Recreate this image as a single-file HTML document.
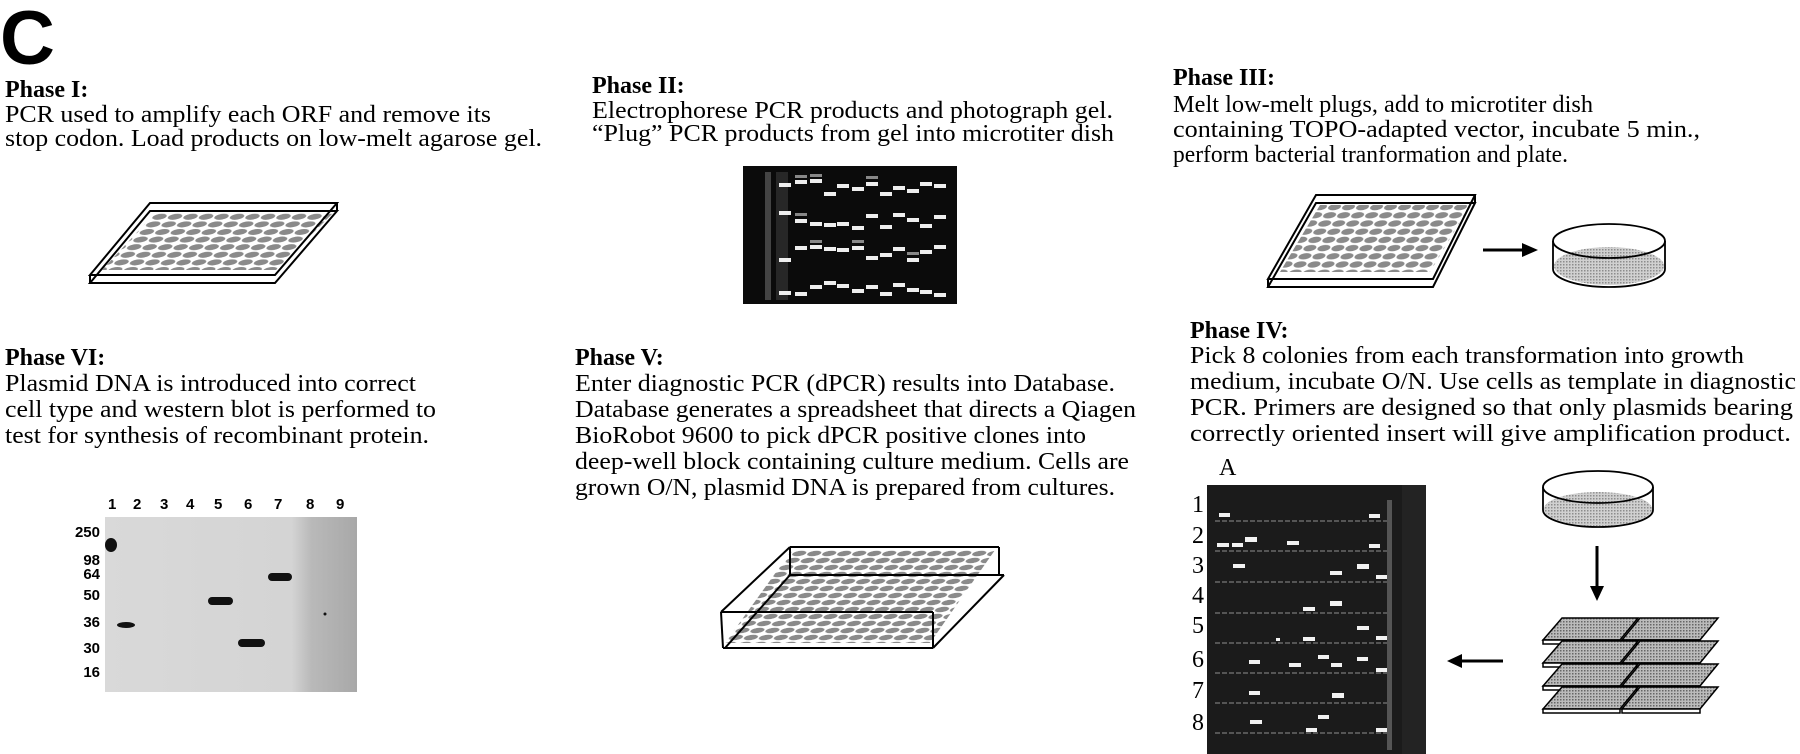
<!DOCTYPE html>
<html><head><meta charset="utf-8"><style>
html,body{margin:0;padding:0;background:#fff;}
svg{display:block;}
.t{font-family:"Liberation Serif",serif;font-size:24px;fill:#000;}
.h{font-family:"Liberation Serif",serif;font-size:24px;font-weight:bold;fill:#000;}
.n{font-family:"Liberation Sans",sans-serif;font-size:15px;font-weight:bold;fill:#000;}
</style></head><body>
<svg width="1800" height="754" viewBox="0 0 1800 754" xmlns="http://www.w3.org/2000/svg">
<defs>
<pattern id="w1" width="15.5" height="7.6" patternUnits="userSpaceOnUse" patternTransform="translate(0,213) skewX(-39.8)">
<ellipse cx="7.7" cy="3.8" rx="6.8" ry="3" fill="#8a8a8a"/></pattern>
<pattern id="w3" width="14" height="8.2" patternUnits="userSpaceOnUse" patternTransform="translate(0,203) skewX(-31)">
<ellipse cx="7" cy="4.1" rx="6.2" ry="3.2" fill="#8a8a8a"/></pattern>
<pattern id="w5" width="15" height="7" patternUnits="userSpaceOnUse" patternTransform="translate(0,550) skewX(-43)">
<ellipse cx="7.5" cy="3.5" rx="6.6" ry="2.7" fill="#8a8a8a"/></pattern>
<pattern id="dot" width="3" height="3" patternUnits="userSpaceOnUse"><rect width="3" height="3" fill="#d0d0d0"/><rect width="1.5" height="1.5" fill="#8c8c8c"/></pattern>
<pattern id="hp" width="3" height="3" patternUnits="userSpaceOnUse"><rect width="3" height="3" fill="#bbb"/><rect width="1.5" height="1.5" fill="#666"/></pattern>
<linearGradient id="bg" x1="0" x2="1" y1="0" y2="0"><stop offset="0" stop-color="#d9d9d9"/><stop offset="0.74" stop-color="#d4d4d4"/><stop offset="0.82" stop-color="#b9b9b9"/><stop offset="1" stop-color="#a8a8a8"/></linearGradient>
</defs>

<text x="0" y="64" font-family="Liberation Sans, sans-serif" font-weight="bold" font-size="76">C</text>

<!-- Phase I -->
<text class="h" x="5" y="97">Phase I:</text>
<text class="t" x="5" y="122" textLength="486" lengthAdjust="spacingAndGlyphs">PCR used to amplify each ORF and remove its</text>
<text class="t" x="5" y="146" textLength="537" lengthAdjust="spacingAndGlyphs">stop codon. Load products on low-melt agarose gel.</text>
<polygon points="150,211 337,211 275,283 90,283" fill="#fff" stroke="#000" stroke-width="2"/>
<polygon points="155,213 333,213 276,270 102,270" fill="url(#w1)"/>
<polygon points="150,203 337,203 275,275 90,275" fill="none" stroke="#000" stroke-width="2"/>
<line x1="337" y1="203" x2="337" y2="211" stroke="#000" stroke-width="2"/>
<line x1="90" y1="275" x2="90" y2="283" stroke="#000" stroke-width="2"/>

<!-- Phase II -->
<text class="h" x="592" y="93">Phase II:</text>
<text class="t" x="592" y="118" textLength="521" lengthAdjust="spacingAndGlyphs">Electrophorese PCR products and photograph gel.</text>
<text class="t" x="592" y="141" textLength="522" lengthAdjust="spacingAndGlyphs">“Plug” PCR products from gel into microtiter dish</text>
<rect x="743" y="166" width="214" height="138" fill="#0b0b0b"/>
<g fill="#444">
<rect x="765" y="172" width="6" height="128"/><rect x="776" y="172" width="12" height="128" opacity="0.5"/>
</g>
<g fill="#eee">
<rect x="779" y="183" width="12" height="4"/><rect x="795" y="180" width="12" height="4"/><rect x="810" y="179" width="12" height="4"/><rect x="824" y="192" width="12" height="4"/><rect x="837" y="184" width="12" height="4"/><rect x="852" y="187" width="12" height="4"/><rect x="866" y="182" width="12" height="4"/><rect x="880" y="192" width="12" height="4"/><rect x="893" y="186" width="12" height="4"/><rect x="907" y="189" width="12" height="4"/><rect x="920" y="182" width="12" height="4"/><rect x="934" y="184" width="12" height="4"/>
<rect x="779" y="211" width="12" height="4"/><rect x="795" y="219" width="12" height="4"/><rect x="810" y="222" width="12" height="4"/><rect x="824" y="223" width="12" height="4"/><rect x="837" y="222" width="12" height="4"/><rect x="852" y="226" width="12" height="4"/><rect x="866" y="214" width="12" height="4"/><rect x="880" y="225" width="12" height="4"/><rect x="893" y="213" width="12" height="4"/><rect x="907" y="218" width="12" height="4"/><rect x="920" y="224" width="12" height="4"/><rect x="934" y="215" width="12" height="4"/>
<rect x="779" y="258" width="12" height="4"/><rect x="795" y="246" width="12" height="4"/><rect x="810" y="245" width="12" height="4"/><rect x="824" y="247" width="12" height="4"/><rect x="837" y="248" width="12" height="4"/><rect x="852" y="246" width="12" height="4"/><rect x="866" y="256" width="12" height="4"/><rect x="880" y="253" width="12" height="4"/><rect x="893" y="247" width="12" height="4"/><rect x="907" y="258" width="12" height="4"/><rect x="920" y="250" width="12" height="4"/><rect x="934" y="245" width="12" height="4"/>
<rect x="779" y="291" width="12" height="4"/><rect x="795" y="292" width="12" height="4"/><rect x="810" y="285" width="12" height="4"/><rect x="824" y="281" width="12" height="4"/><rect x="837" y="284" width="12" height="4"/><rect x="852" y="289" width="12" height="4"/><rect x="866" y="285" width="12" height="4"/><rect x="880" y="292" width="12" height="4"/><rect x="893" y="283" width="12" height="4"/><rect x="907" y="288" width="12" height="4"/><rect x="920" y="290" width="12" height="4"/><rect x="934" y="293" width="12" height="4"/>
</g>
<g fill="#888">
<rect x="795" y="175" width="12" height="3"/><rect x="810" y="174" width="12" height="3"/><rect x="866" y="176" width="12" height="3"/><rect x="795" y="213" width="12" height="3"/><rect x="810" y="240" width="12" height="3"/><rect x="852" y="240" width="12" height="3"/><rect x="907" y="252" width="12" height="3"/>
</g>

<!-- Phase III -->
<text class="h" x="1173" y="85">Phase III:</text>
<text class="t" x="1173" y="112" textLength="420" lengthAdjust="spacingAndGlyphs">Melt low-melt plugs, add to microtiter dish</text>
<text class="t" x="1173" y="137" textLength="527" lengthAdjust="spacingAndGlyphs">containing TOPO-adapted vector, incubate 5 min.,</text>
<text class="t" x="1173" y="162" textLength="395" lengthAdjust="spacingAndGlyphs">perform bacterial tranformation and plate.</text>
<polygon points="1316,203 1475,203 1433,287 1268,287" fill="#fff" stroke="#000" stroke-width="2"/>
<polygon points="1320,205 1470,205 1430,272 1280,272" fill="url(#w3)"/>
<polygon points="1316,195 1475,195 1433,279 1268,279" fill="none" stroke="#000" stroke-width="2"/>
<line x1="1475" y1="195" x2="1475" y2="203" stroke="#000" stroke-width="2"/>
<line x1="1268" y1="279" x2="1268" y2="287" stroke="#000" stroke-width="2"/>
<line x1="1483" y1="250" x2="1524" y2="250" stroke="#000" stroke-width="3"/>
<polygon points="1522,243 1538,250 1522,257" fill="#000"/>
<ellipse cx="1609" cy="266" rx="55" ry="19" fill="url(#dot)"/>
<ellipse cx="1609" cy="241" rx="56" ry="17" fill="none" stroke="#000" stroke-width="1.8"/>
<path d="M1553,241 L1553,269 A56,18 0 0 0 1665,269 L1665,241" fill="none" stroke="#000" stroke-width="1.8"/>

<!-- Phase VI -->
<text class="h" x="5" y="365">Phase VI:</text>
<text class="t" x="5" y="391" textLength="411" lengthAdjust="spacingAndGlyphs">Plasmid DNA is introduced into correct</text>
<text class="t" x="5" y="417" textLength="431" lengthAdjust="spacingAndGlyphs">cell type and western blot is performed to</text>
<text class="t" x="5" y="443" textLength="424" lengthAdjust="spacingAndGlyphs">test for synthesis of recombinant protein.</text>
<g class="n">
<text class="n" x="108" y="509">1</text><text class="n" x="133" y="509">2</text><text class="n" x="160" y="509">3</text><text class="n" x="186" y="509">4</text><text class="n" x="214" y="509">5</text><text class="n" x="244" y="509">6</text><text class="n" x="274" y="509">7</text><text class="n" x="306" y="509">8</text><text class="n" x="336" y="509">9</text>
<text class="n" x="100" y="537" text-anchor="end">250</text><text class="n" x="100" y="565" text-anchor="end">98</text><text class="n" x="100" y="579" text-anchor="end">64</text><text class="n" x="100" y="600" text-anchor="end">50</text><text class="n" x="100" y="627" text-anchor="end">36</text><text class="n" x="100" y="653" text-anchor="end">30</text><text class="n" x="100" y="677" text-anchor="end">16</text>
</g>
<rect x="105" y="517" width="252" height="175" fill="url(#bg)"/>
<g fill="#111">
<ellipse cx="111" cy="545" rx="6" ry="7"/>
<ellipse cx="126" cy="625" rx="9" ry="3"/>
<rect x="208" y="597" width="25" height="8" rx="4"/>
<rect x="238" y="639" width="27" height="8" rx="4"/>
<rect x="268" y="573" width="24" height="8" rx="4"/>
<circle cx="325" cy="614" r="1.5"/>
</g>

<!-- Phase V -->
<text class="h" x="575" y="365">Phase V:</text>
<text class="t" x="575" y="391" textLength="540" lengthAdjust="spacingAndGlyphs">Enter diagnostic PCR (dPCR) results into Database.</text>
<text class="t" x="575" y="417" textLength="561" lengthAdjust="spacingAndGlyphs">Database generates a spreadsheet that directs a Qiagen</text>
<text class="t" x="575" y="443" textLength="511" lengthAdjust="spacingAndGlyphs">BioRobot 9600 to pick dPCR positive clones into</text>
<text class="t" x="575" y="469" textLength="554" lengthAdjust="spacingAndGlyphs">deep-well block containing culture medium. Cells are</text>
<text class="t" x="575" y="495" textLength="540" lengthAdjust="spacingAndGlyphs">grown O/N, plasmid DNA is prepared from cultures.</text>
<polygon points="792,550 995,550 930,643 725,643" fill="url(#w5)"/>
<g stroke="#000" stroke-width="2" fill="none">
<line x1="790" y1="547" x2="999" y2="547"/>
<line x1="790" y1="547" x2="721" y2="612"/>
<line x1="721" y1="612" x2="933" y2="612"/>
<line x1="999" y1="547" x2="999" y2="575"/>
<line x1="790" y1="575" x2="1004" y2="575"/>
<line x1="1004" y1="575" x2="933" y2="648"/>
<line x1="723" y1="648" x2="933" y2="648"/>
<line x1="721" y1="612" x2="723" y2="648"/>
<line x1="790" y1="575" x2="725" y2="648"/>
<line x1="933" y1="612" x2="933" y2="648"/>
<line x1="790" y1="547" x2="790" y2="575"/>
</g>

<!-- Phase IV -->
<text class="h" x="1190" y="338">Phase IV:</text>
<text class="t" x="1190" y="363" textLength="554" lengthAdjust="spacingAndGlyphs">Pick 8 colonies from each transformation into growth</text>
<text class="t" x="1190" y="389" textLength="606" lengthAdjust="spacingAndGlyphs">medium, incubate O/N. Use cells as template in diagnostic</text>
<text class="t" x="1190" y="415" textLength="603" lengthAdjust="spacingAndGlyphs">PCR.  Primers are designed so that only plasmids bearing</text>
<text class="t" x="1190" y="441" textLength="601" lengthAdjust="spacingAndGlyphs">correctly oriented insert will give amplification product.</text>
<text class="t" x="1219" y="475">A</text>
<g class="t">
<text class="t" x="1192" y="512">1</text><text class="t" x="1192" y="543">2</text><text class="t" x="1192" y="573">3</text><text class="t" x="1192" y="603">4</text><text class="t" x="1192" y="633">5</text><text class="t" x="1192" y="667">6</text><text class="t" x="1192" y="698">7</text><text class="t" x="1192" y="730">8</text>
</g>
<rect x="1207" y="485" width="219" height="269" fill="#1b1b1b"/>
<rect x="1402" y="485" width="24" height="269" fill="#232323"/>
<g stroke="#555" stroke-width="2" stroke-dasharray="5,2">
<line x1="1215" y1="521" x2="1390" y2="521"/><line x1="1215" y1="551" x2="1390" y2="551"/><line x1="1215" y1="582" x2="1390" y2="582"/><line x1="1215" y1="613" x2="1390" y2="613"/><line x1="1215" y1="643" x2="1390" y2="643"/><line x1="1215" y1="673" x2="1390" y2="673"/><line x1="1215" y1="703" x2="1390" y2="703"/><line x1="1215" y1="733" x2="1390" y2="733"/>
</g>
<g fill="#f2f2f2">
<rect x="1219" y="513" width="11" height="4"/><rect x="1369" y="514" width="11" height="4"/>
<rect x="1217" y="543" width="12" height="4"/><rect x="1232" y="543" width="11" height="4"/><rect x="1245" y="537" width="12" height="5"/><rect x="1287" y="541" width="12" height="4"/><rect x="1369" y="544" width="11" height="4"/>
<rect x="1233" y="564" width="12" height="4"/><rect x="1330" y="571" width="12" height="4"/><rect x="1357" y="564" width="12" height="5"/><rect x="1376" y="575" width="11" height="4"/>
<rect x="1303" y="607" width="12" height="4"/><rect x="1330" y="601" width="12" height="5"/>
<rect x="1357" y="626" width="12" height="4"/><rect x="1303" y="637" width="12" height="4"/><rect x="1376" y="636" width="11" height="4"/><rect x="1276" y="638" width="4" height="3"/>
<rect x="1249" y="660" width="11" height="4"/><rect x="1289" y="663" width="12" height="4"/><rect x="1318" y="655" width="11" height="4"/><rect x="1331" y="663" width="11" height="4"/><rect x="1357" y="657" width="11" height="4"/><rect x="1376" y="668" width="11" height="4"/>
<rect x="1249" y="691" width="11" height="4"/><rect x="1332" y="693" width="12" height="5"/>
<rect x="1250" y="720" width="12" height="4"/><rect x="1318" y="715" width="11" height="4"/><rect x="1306" y="728" width="11" height="4"/><rect x="1376" y="728" width="11" height="4"/>
</g>
<g fill="#555"><rect x="1387" y="500" width="5" height="250"/></g>
<line x1="1460" y1="661" x2="1503" y2="661" stroke="#000" stroke-width="3"/>
<polygon points="1462,654 1447,661 1462,668" fill="#000"/>
<ellipse cx="1598" cy="509" rx="54" ry="17" fill="url(#dot)"/>
<ellipse cx="1598" cy="487" rx="55" ry="16" fill="none" stroke="#000" stroke-width="1.8"/>
<path d="M1543,487 L1543,510 A55,17 0 0 0 1653,510 L1653,487" fill="none" stroke="#000" stroke-width="1.8"/>
<line x1="1597" y1="546" x2="1597" y2="588" stroke="#000" stroke-width="3"/>
<polygon points="1590,586 1597,601 1604,586" fill="#000"/>
<g stroke="#000" stroke-width="1.5">
<g id="pl">
<polygon points="1562,618 1638,618 1620,640 1543,640" fill="url(#hp)"/>
<polygon points="1543,640 1620,640 1620,644 1543,644" fill="#fff"/>
<polygon points="1640,618 1718,618 1700,640 1622,640" fill="url(#hp)"/>
<polygon points="1622,640 1700,640 1700,644 1622,644" fill="#fff"/>
</g>
<use href="#pl" y="23"/><use href="#pl" y="46"/><use href="#pl" y="69"/>
</g>
</svg>
</body></html>
